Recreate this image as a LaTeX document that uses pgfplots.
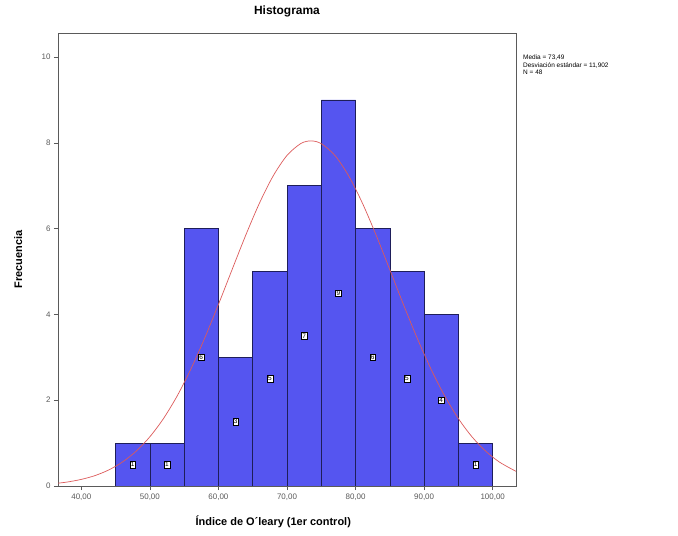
\documentclass[border=0pt]{standalone}
\usepackage{pgfplots}
\pgfplotsset{compat=1.18}
\usepackage{fontspec}
\setmainfont{Liberation Sans}
\definecolor{barblue}{RGB}{85,85,240}
\definecolor{baredge}{RGB}{30,30,90}
\definecolor{curvered}{RGB}{220,90,90}
\definecolor{axgray}{RGB}{90,90,90}
\begin{document}
\begin{tikzpicture}[x=1bp,y=1bp]
\begin{axis}[
  at={(58bp,50bp)}, anchor=south west,
  width=458bp, height=453bp, scale only axis,
  xmin=36.6, xmax=103.4, ymin=0, ymax=10.56,
  xtick={40,50,60,70,80,90,100},
  xticklabels={{40,00},{50,00},{60,00},{70,00},{80,00},{90,00},{100,00}},
  ytick={0,2,4,6,8,10},
  tick align=outside, tick pos=left,
  major tick length=4bp,
  axis line style={axgray, line width=0.8pt},
  tick style={axgray, line width=0.6pt},
  tick label style={font=\fontsize{8}{9}\selectfont, text=axgray},
  /pgf/number format/assume math mode=true,
  xlabel={\textbf{Índice de O´leary (1er control)}},
  ylabel={\textbf{Frecuencia}},
  xlabel style={font=\fontsize{11}{13}\selectfont, at={(axis description cs:0.47,0)}, anchor=center, yshift=-36bp},
  ylabel style={font=\fontsize{11}{13}\selectfont, at={(axis description cs:-0.087,0.5)}, anchor=center},
  title={\textbf{Histograma}},
  title style={font=\fontsize{12}{14}\selectfont, at={(axis description cs:0.5,1)}, anchor=center, yshift=16bp},
  clip=true,
]
\addplot[ybar interval, fill=barblue, draw=baredge, line width=0.6pt]
  coordinates {(45,1)(50,1)(55,6)(60,3)(65,5)(70,7)(75,9)(80,6)(85,5)(90,4)(95,1)(100,1)};
\addplot[curvered, line width=0.7pt, smooth]
  coordinates {(36.6,0.066)(38,0.094)(40,0.154)(42,0.243)(44,0.374)(46,0.559)(48,0.812)(50,1.148)(52,1.576)(54,2.105)(56,2.733)(58,3.449)(60,4.232)(62,5.048)(64,5.854)(66,6.600)(68,7.233)(70,7.706)(72,7.982)(73.5,8.045)(75,7.980)(77,7.703)(79,7.228)(81,6.593)(83,5.847)(85,5.040)(87,4.224)(89,3.442)(91,2.726)(93,2.099)(95,1.571)(97,1.143)(99,0.809)(101,0.556)(103.4,0.342)};
\addplot[only marks, mark=none, point meta=explicit symbolic, nodes near coords,
  nodes near coords style={draw=black, fill=white, font=\fontsize{6.5}{7}\selectfont, inner sep=1pt, anchor=center, line width=0.3pt}]
  coordinates {(47.5,0.5)[1] (52.5,0.5)[1] (57.5,3)[6] (62.5,1.5)[3] (67.5,2.5)[5] (72.5,3.5)[7] (77.5,4.5)[9] (82.5,3)[6] (87.5,2.5)[5] (92.5,2)[4] (97.5,0.5)[1]};
\end{axis}
\node[anchor=north west, align=left, font=\fontsize{6.5}{7.5}\selectfont, inner sep=0pt] at (523bp,481bp)
  {Media = 73,49\\Desviación estándar = 11,902\\N = 48};
\pgfresetboundingbox
\useasboundingbox (0bp,0bp) rectangle (678bp,536bp);
\end{tikzpicture}
\end{document}
